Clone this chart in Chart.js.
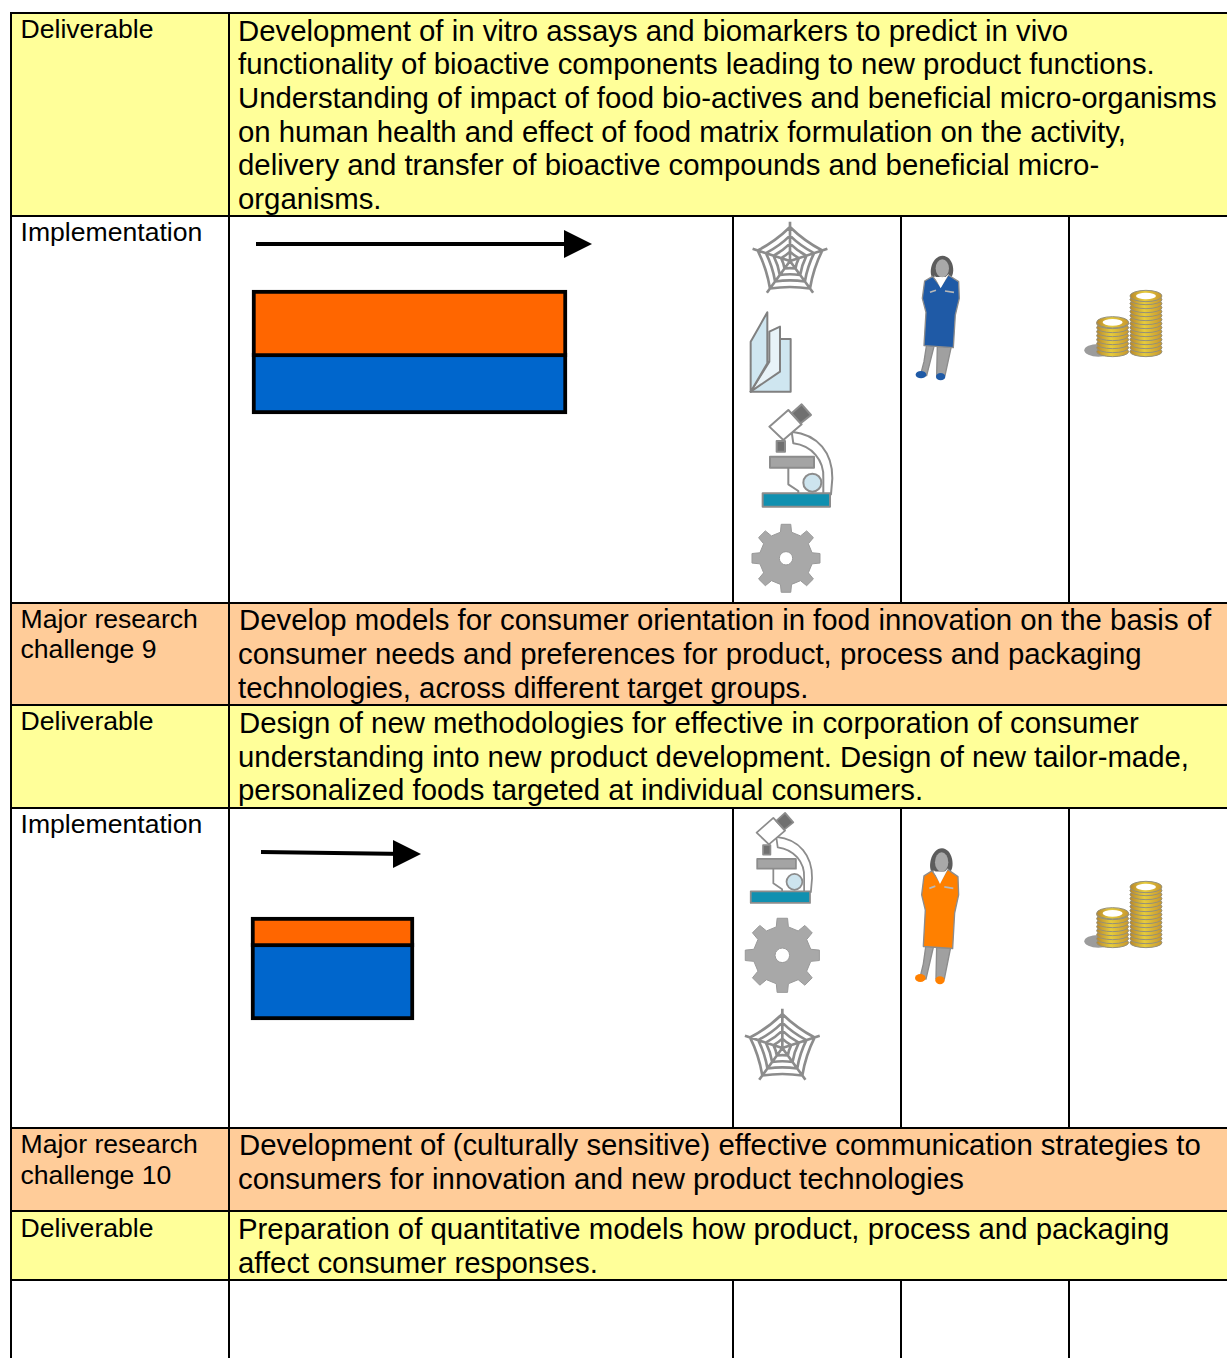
<!DOCTYPE html>
<html>
<head>
<meta charset="utf-8">
<title>Implementation table</title>
<script src="https://cdn.jsdelivr.net/npm/chart.js@4/dist/chart.umd.min.js"></script>
<style>
    html, body { margin: 0; padding: 0; background: #fff; }
    #page { position: relative; width: 1227px; height: 1358px; overflow: hidden; font-family: "Liberation Sans", Arial, sans-serif; color: #000; }
    .band, .rule { position: absolute; }
    .rule { background: #000; }
    .txt { position: absolute; white-space: nowrap; line-height: 30px; }
    .label { font-size: 26.6px; }
    .body { font-size: 29.35px; }
    canvas.timeline { position: absolute; }
    #icons { position: absolute; left: 0; top: 0; filter: blur(0.45px); }
</style>
</head>
<body>
<div id="page"></div>
<script>
// Table text, one entry per row: [x, centre y of the line, text]
const labelLines = [
    [20.5, 29, 'Deliverable'],
    [20.5, 232, 'Implementation'],
    [20.5, 619, 'Major research'],
    [20.5, 649, 'challenge 9'],
    [20.5, 721, 'Deliverable'],
    [20.5, 824, 'Implementation'],
    [20.5, 1144, 'Major research'],
    [20.5, 1175, 'challenge 10'],
    [20.5, 1228, 'Deliverable']
];
const bodyLines = [
    [238, 31, 'Development of in vitro assays and biomarkers to predict in vivo'],
    [238, 64, 'functionality of bioactive components leading to new product functions.'],
    [238, 98, 'Understanding of impact of food bio-actives and beneficial micro-organisms'],
    [238, 132, 'on human health and effect of food matrix formulation on the activity,'],
    [238, 165, 'delivery and transfer of bioactive compounds and beneficial micro-'],
    [238, 199, 'organisms.'],
    [239, 620, 'Develop models for consumer orientation in food innovation on the basis of'],
    [238, 654, 'consumer needs and preferences for product, process and packaging'],
    [238, 688, 'technologies, across different target groups.'],
    [239, 723, 'Design of new methodologies for effective in corporation of consumer'],
    [238, 757, 'understanding into new product development. Design of new tailor-made,'],
    [238, 790, 'personalized foods targeted at individual consumers.'],
    [239, 1145, 'Development of (culturally sensitive) effective communication strategies to'],
    [238, 1179, 'consumers for innovation and new product technologies'],
    [238, 1229, 'Preparation of quantitative models how product, process and packaging'],
    [238, 1263, 'affect consumer responses.']
];

// Rows of the table: top, bottom, background, has the three extra columns
const rowTops = [13, 216, 603, 705, 808, 1128, 1211, 1280];
const rowBottoms = [216, 603, 705, 808, 1128, 1211, 1280, 1358];
const rowColors = ['#ffff99', '#ffffff', '#ffcc99', '#ffff99', '#ffffff', '#ffcc99', '#ffff99', '#ffffff'];
const rowSplit = [false, true, false, false, true, false, false, true];

// Bars and arrows of the two Implementation cells
const barStart = [22, 21];
const barEnd = [337, 184];
const orangeTop = [73, 108];
const orangeBottom = [140, 138];
const blueTop = [136, 134];
const blueBottom = [197, 211];
const arrowFromX = [26, 31];
const arrowToX = [348, 177];
const arrowFromY = [27, 43];
const arrowToY = [27, 45];
const cellLeft = [230, 230];
const cellTop = [217, 809];
const cellWidth = [503, 503];
const cellHeight = [386, 319];

const page = document.getElementById('page');

function addBox(className, left, top, width, height, color) {
    const el = document.createElement('div');
    el.className = className;
    el.style.cssText = `left:${left}px;top:${top}px;width:${width}px;height:${height}px;background:${color}`;
    page.appendChild(el);
}

function addText(cls, line) {
    const el = document.createElement('div');
    el.className = 'txt ' + cls;
    el.style.left = line[0] + 'px';
    el.style.top = (line[1] - 15) + 'px';
    el.textContent = line[2];
    page.appendChild(el);
}

// Фон и линии таблицы
rowTops.forEach((top, i) => {
    addBox('band', 11, top, 1216, rowBottoms[i] - top, rowColors[i]);
});
rowTops.forEach((top, i) => {
    addBox('rule', 10, top - 1, 1217, 2, '#000');
    addBox('rule', 228, top, 2, rowBottoms[i] - top, '#000');
    if (rowSplit[i]) {
        [732, 900, 1068].forEach(x => addBox('rule', x, top, 2, rowBottoms[i] - top, '#000'));
    }
});
addBox('rule', 10, 12, 2, 1346, '#000');

labelLines.forEach(line => addText('label', line));
bodyLines.forEach(line => addText('body', line));

function arrowHead() {
    const c = document.createElement('canvas');
    c.width = 28;
    c.height = 28;
    const ctx = c.getContext('2d');
    ctx.fillStyle = '#000';
    ctx.beginPath();
    ctx.moveTo(0, 0);
    ctx.lineTo(28, 14);
    ctx.lineTo(0, 28);
    ctx.closePath();
    ctx.fill();
    return c;
}

function band(i, from, to, top, bottom, color) {
    return {
        type: 'bar',
        data: [{ x: [from[i], to[i]], y: (top[i] + bottom[i]) / 2 }],
        barThickness: bottom[i] - top[i],
        backgroundColor: color,
        borderColor: '#000',
        borderWidth: 4,
        borderSkipped: false,
        grouped: false
    };
}

function drawCell(i) {
    const canvas = document.createElement('canvas');
    canvas.className = 'timeline';
    canvas.width = cellWidth[i];
    canvas.height = cellHeight[i];
    canvas.style.cssText = `left:${cellLeft[i]}px;top:${cellTop[i]}px;width:${cellWidth[i]}px;height:${cellHeight[i]}px`;
    page.appendChild(canvas);

    new Chart(canvas.getContext('2d'), {
        type: 'bar',
        data: {
            datasets: [
                {
                    type: 'line',
                    data: [
                        { x: arrowFromX[i], y: arrowFromY[i] },
                        { x: arrowToX[i], y: arrowToY[i] }
                    ],
                    borderColor: '#000',
                    borderWidth: 4,
                    pointRadius: [0, 14],
                    pointStyle: arrowHead(),
                    tension: 0,
                    clip: false
                },
                band(i, barStart, barEnd, orangeTop, orangeBottom, '#ff6600'),
                band(i, barStart, barEnd, blueTop, blueBottom, '#0066cc')
            ]
        },
        options: {
            indexAxis: 'y',
            responsive: false,
            animation: false,
            events: [],
            layout: { padding: 0, autoPadding: false },
            plugins: { legend: { display: false }, tooltip: { enabled: false } },
            scales: {
                x: { type: 'linear', min: 0, max: cellWidth[i], display: false },
                y: { type: 'linear', min: 0, max: cellHeight[i], reverse: true, offset: false, display: false }
            }
        }
    });
}

cellLeft.forEach((_, i) => drawCell(i));

// Значки в колонках справа
const GREY = '#8c8c8c';

function polar(cx, cy, r, deg) {
    const a = (deg - 90) * Math.PI / 180;
    return [cx + r * Math.cos(a), cy + r * Math.sin(a)];
}

function webIcon(cx, cy, s) {
    const tips = [0, 72, 144, 216, 288];
    let d = '';
    tips.forEach(deg => {
        const p = polar(cx, cy, 118 * s, deg);
        d += `M${cx},${cy}L${p[0]},${p[1]}`;
    });
    [102, 76, 52, 28].forEach(r => {
        tips.forEach((deg, k) => {
            const a = polar(cx, cy, r * s, deg);
            const b = polar(cx, cy, r * s, tips[(k + 1) % 5]);
            const m = polar(cx, cy, r * s * 0.72, deg + 36);
            d += `M${a[0]},${a[1]}Q${m[0]},${m[1]} ${b[0]},${b[1]}`;
        });
    });
    return `<path d="${d}" fill="none" stroke="${GREY}" stroke-width="8"/>`;
}

function gearIcon(cx, cy, s) {
    const pts = [];
    for (let k = 0; k < 8; k++) {
        const deg = k * 45;
        [[-12, 80], [-8, 103], [8, 103], [12, 80]].forEach(t => {
            pts.push(polar(cx, cy, t[1] * s, deg + t[0]).join(','));
        });
    }
    return `<polygon points="${pts.join(' ')}" fill="#a8a8a8" stroke="#999" stroke-width="3"/>` +
        `<circle cx="${cx}" cy="${cy}" r="${20 * s}" fill="#fff" stroke="#999" stroke-width="3"/>`;
}

const brochureIcon = `<g stroke="#808080" stroke-width="6" stroke-linejoin="round" fill="#cfe6f0">
    <path d="M150,372 L182,372 L182,530 L62,530 L118,440 Z"/>
    <path d="M118,350 L150,335 L150,470 L62,530 L118,440 Z" fill="#e8f3f8"/>
    <path d="M112,292 L62,380 L62,530 L112,445 Z"/>
</g>`;

const microscopeIcon = `<g stroke="#8c8c8c" stroke-width="6" stroke-linejoin="round">
    <path d="M185,650 C265,658 308,715 307,790 L303,838 L280,838 L280,790 C283,735 245,692 190,685 Z" fill="#fff"/>
    <path d="M175,755 L175,808 L205,828 L205,838 L280,838" fill="none"/>
    <rect x="120" y="725" width="132" height="33" fill="#a4a4a4"/>
    <rect x="98" y="835" width="202" height="40" fill="#1090b0"/>
    <circle cx="247" cy="803" r="27" fill="#cde4ee"/>
    <rect x="140" y="678" width="25" height="32" fill="#707070"/>
    <path d="M118,635 L175,585 L215,628 L160,675 Z" fill="#fff"/>
    <path d="M185,595 L215,568 L243,600 L212,625 Z" fill="#707070"/>
</g>`;

function womanIcon(color) {
    return `<g stroke="#8c8c8c" stroke-width="4" stroke-linejoin="round">
    <path d="M590,388 L582,440 L572,478 L590,482 L612,395 Z M622,395 L620,482 L645,482 L664,395 Z" fill="#a0a0a0"/>
    <ellipse cx="573" cy="479" rx="16" ry="11" fill="${color}" stroke="none"/>
    <ellipse cx="632" cy="485" rx="14" ry="11" fill="${color}" stroke="none"/>
    <path d="M606,186 C596,170 606,123 638,122 C670,124 676,170 664,186 Z" fill="#5c5c5c" stroke="none"/>
    <ellipse cx="637" cy="160" rx="20" ry="27" fill="#a8a8a8" stroke="none"/>
    <path d="M608,184 L584,198 L577,250 L588,292 L582,392 L670,398 L676,300 L688,250 L686,200 L655,180 L632,215 Z" fill="${color}"/>
    <path d="M612,181 L632,220 L657,176 L640,192 L625,192 Z" fill="#fff" stroke="none"/>
    <path d="M600,232 L618,226 M645,228 L672,232" stroke="#b8b8b8" stroke-width="5"/>
</g>`;
}

function coinStack(cx, topY, bottomY) {
    let out = '';
    for (let y = bottomY; y > topY; y -= 12) {
        out += `<ellipse cx="${cx}" cy="${y}" rx="48" ry="15" fill="url(#gold)" stroke="#94907a" stroke-width="3"/>`;
    }
    out += `<ellipse cx="${cx}" cy="${topY}" rx="48" ry="17" fill="url(#gold)" stroke="#94907a" stroke-width="3"/>`;
    out += `<ellipse cx="${cx}" cy="${topY}" rx="30" ry="10" fill="#fff"/>`;
    return out;
}

const coinsIcon = `<ellipse cx="1105" cy="406" rx="42" ry="19" fill="#9c9c9c"/>` +
    coinStack(1248, 243, 410) + coinStack(1148, 322, 410);

function place(x, y, inner, extra) {
    return `<g transform="translate(${x},${y}) scale(0.3333) ${extra || ''}">${inner}</g>`;
}

document.getElementById('page').insertAdjacentHTML('beforeend', `
<svg id="icons" width="1227" height="1358" viewBox="0 0 1227 1358">
    <defs>
        <linearGradient id="gold" x1="0" x2="1" y1="0" y2="0">
            <stop offset="0" stop-color="#b8862a"/>
            <stop offset="0.45" stop-color="#e6cc3c"/>
            <stop offset="1" stop-color="#c8962c"/>
        </linearGradient>
    </defs>
    ${place(730, 215, webIcon(180, 138, 1))}
    ${place(730, 215, brochureIcon)}
    ${place(730, 215, microscopeIcon)}
    ${place(730, 215, gearIcon(168, 1030, 1))}
    ${place(730, 215, womanIcon('#1f5aa6'))}
    ${place(730, 215, coinsIcon)}
    ${place(730, 808, microscopeIcon, 'translate(-24,-485) scale(0.88)')}
    ${place(730, 808, gearIcon(157, 442, 1.09))}
    ${place(730, 808, webIcon(157, 720, 1))}
    ${place(730, 808, womanIcon('#ff8000'), 'translate(-2,-12) scale(1,1.09)')}
    ${place(730, 808, coinsIcon, 'translate(0,-6)')}
</svg>`);
</script>
</body>
</html>
